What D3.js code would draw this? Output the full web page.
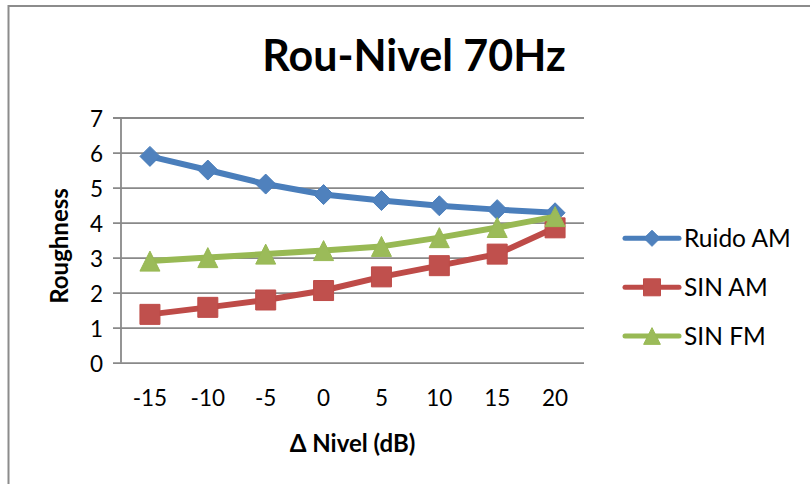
<!DOCTYPE html>
<html>
<head>
<meta charset="utf-8">
<script src="https://cdn.jsdelivr.net/npm/d3@7"></script>
<style>
  html, body { margin: 0; padding: 0; background: #fff; }
  svg { display: block; }
  text { font-family: Lato, "Open Sans", sans-serif; fill: #000; }
</style>
</head>
<body>
<svg id="chart" width="810" height="484"></svg>
<script>
// Level offsets (dB) along the horizontal axis
const categories = ["-15", "-10", "-5", "0", "5", "10", "15", "20"];

// Roughness per stimulus type
const ruidoAM = [5.89, 5.50, 5.10, 4.80, 4.63, 4.48, 4.37, 4.28];
const sinAM   = [1.38, 1.58, 1.79, 2.06, 2.45, 2.77, 3.10, 3.85];
const sinFM   = [2.90, 3.00, 3.10, 3.20, 3.32, 3.57, 3.86, 4.17];

const seriesNames = ["Ruido AM", "SIN AM", "SIN FM"];
const yTicks = [0, 1, 2, 3, 4, 5, 6, 7];

const chartTitle = "Rou-Nivel 70Hz";
const xTitle = "\u0394 Nivel (dB)";
const yTitle = "Roughness";

// Square turned 45 degrees and a triangle as tall as it is wide
const diamondType = {
  draw(ctx, size) {
    const r = Math.sqrt(size * 2) / 2;
    ctx.moveTo(0, -r); ctx.lineTo(r, 0); ctx.lineTo(0, r); ctx.lineTo(-r, 0); ctx.closePath();
  }
};
const triangleType = {
  draw(ctx, size) {
    const r = Math.sqrt(size) / 2;
    ctx.moveTo(0, -r); ctx.lineTo(r, r); ctx.lineTo(-r, r); ctx.closePath();
  }
};

const series = [
  { name: seriesNames[0], values: ruidoAM, line: "#4a7ebb", fill: "#4f81bd", type: diamondType, size: 200, legendSize: 130 },
  { name: seriesNames[1], values: sinAM,   line: "#be4b48", fill: "#c0504d", type: d3.symbolSquare, size: 400, legendSize: 289 },
  { name: seriesNames[2], values: sinFM,   line: "#98b954", fill: "#9bbb59", type: triangleType, size: 400, legendSize: 280 }
];

const svg = d3.select("#chart");

// Outer chart frame
svg.append("rect")
  .attr("x", 8.5).attr("y", 6)
  .attr("width", 820).attr("height", 500)
  .attr("fill", "#fff")
  .attr("stroke", "#8c8c8c")
  .attr("stroke-width", 2);

const plot = { left: 121, right: 584, top: 117.5, bottom: 362.7 };

const x = d3.scaleBand().domain(categories).range([plot.left, plot.right]);
const y = d3.scaleLinear().domain([0, 7]).range([plot.bottom, plot.top]);

// Horizontal gridlines with outside tick marks and labels
const yAxis = d3.axisLeft(y).tickValues(yTicks).tickSize(-(plot.right - plot.left)).tickPadding(18).tickFormat(d3.format("d"));
const gy = svg.append("g").attr("transform", `translate(${plot.left},0)`).call(yAxis);
gy.select(".domain").remove();
gy.selectAll(".tick line").attr("stroke", "#898989").attr("stroke-width", 1.8).attr("x1", -8);
gy.selectAll(".tick text")
  .attr("font-family", "Lato, sans-serif")
  .attr("font-size", 22.5)
  .attr("fill", "#000")
  .attr("dy", "0.38em");

// Vertical axis line
svg.append("line")
  .attr("x1", plot.left).attr("x2", plot.left)
  .attr("y1", plot.top).attr("y2", plot.bottom)
  .attr("stroke", "#898989").attr("stroke-width", 1.8);

// Category labels
const xAxis = d3.axisBottom(x).tickSize(0).tickPadding(0);
const gx = svg.append("g").attr("transform", `translate(0,${plot.bottom})`).call(xAxis);
gx.select(".domain").remove();
gx.selectAll(".tick text")
  .attr("font-family", "Lato, sans-serif")
  .attr("font-size", 22.5)
  .attr("fill", "#000")
  .attr("y", 406 - plot.bottom)
  .attr("dy", 0);

// Lines and markers
const lineGen = d3.line()
  .x((d, i) => x(categories[i]) + x.bandwidth() / 2)
  .y(d => y(d));

series.forEach(s => {
  const g = svg.append("g");
  g.append("path")
    .attr("d", lineGen(s.values))
    .attr("fill", "none")
    .attr("stroke", s.line)
    .attr("stroke-width", 6)
    .attr("stroke-linejoin", "round")
    .attr("stroke-linecap", "round");
  g.selectAll("path.marker")
    .data(s.values)
    .join("path")
    .attr("class", "marker")
    .attr("d", d3.symbol().type(s.type).size(s.size))
    .attr("transform", (d, i) => `translate(${x(categories[i]) + x.bandwidth() / 2},${y(d)})`)
    .attr("fill", s.fill)
    .attr("stroke", s.line)
    .attr("stroke-width", 1);
});

// Legend
const legendRows = [238.3, 287.3, 336];
series.forEach((s, i) => {
  const g = svg.append("g").attr("transform", `translate(0,${legendRows[i]})`);
  g.append("line")
    .attr("x1", 625).attr("x2", 679)
    .attr("stroke", s.line).attr("stroke-width", 5).attr("stroke-linecap", "round");
  g.append("path")
    .attr("d", d3.symbol().type(s.type).size(s.legendSize))
    .attr("transform", "translate(652,0)")
    .attr("fill", s.fill).attr("stroke", s.line).attr("stroke-width", 1);
  g.append("text")
    .attr("x", 684).attr("y", 8.7)
    .attr("font-size", 24.5)
    .text(s.name);
});

// Titles
svg.append("text")
  .attr("x", 414).attr("y", 71)
  .attr("text-anchor", "middle")
  .attr("font-size", 43)
  .attr("font-weight", "bold")
  .text(chartTitle);

svg.append("text")
  .attr("x", (plot.left + plot.right) / 2).attr("y", 452.3)
  .attr("text-anchor", "middle")
  .attr("font-size", 24)
  .attr("font-weight", "bold")
  .text(xTitle);

svg.append("text")
  .attr("transform", "translate(68,246) rotate(-90)")
  .attr("text-anchor", "middle")
  .attr("font-size", 24)
  .attr("font-weight", "bold")
  .text(yTitle);
</script>
</body>
</html>
